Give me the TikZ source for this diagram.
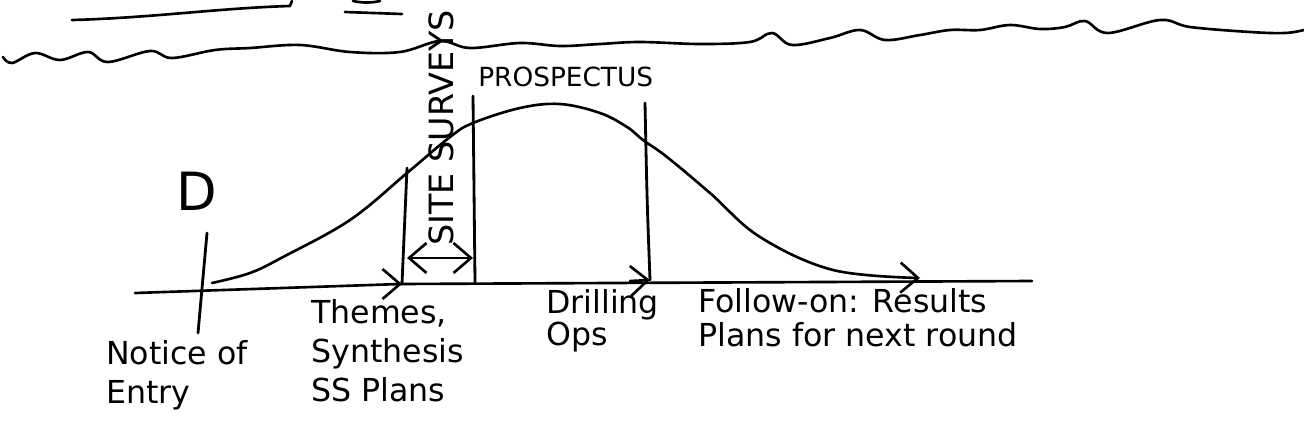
\documentclass[tikz,border=0pt]{standalone}
\usepackage{fontspec}
\setmainfont{DejaVu Sans}
\usetikzlibrary{arrows.meta}

\begin{document}
\begin{tikzpicture}[
  x=0.02cm, y=-0.02cm, >={Straight Barb[length=3.5mm,width=6mm]},
  line width=1.5pt, line cap=round, line join=round,
  hand/.style={font=\fontsize{18}{22}\selectfont, align=left, inner sep=0pt, anchor=base west},
  divider/.style={line width=1.6pt},
  pen/.style={line width=1.5pt}]
  \useasboundingbox (0,0) rectangle (1304,440);
  % cut-off strokes and the tear line at the top
  \draw[pen] (72,20) .. controls (150,18) and (220,8) .. (290,6) -- (292,1);
  \draw[pen] (345,12) -- (402,14);
  \draw[pen] (353,1) .. controls (362,3) and (372,3) .. (380,1);
  \draw[pen] plot[smooth, tension=0.6] coordinates {(3,57) (12,63) (35,53) (60,60) (88,52) (108,62) (150,51) (172,58) (215,50) (250,48) (300,45) (350,52) (400,52) (440,41) (470,48) (520,43) (560,46) (600,44) (640,42) (700,44) (750,42) (772,33) (792,45) (830,38) (860,30) (885,40) (920,35) (950,30) (980,30) (1010,25) (1040,29) (1065,27) (1085,21) (1108,33) (1160,20) (1190,27) (1250,32) (1285,33) (1304,30)};
  % labels (base = last line)
  \node[hand, font=\fontsize{30}{30}\selectfont] (dmark) at (175,210) {D};
  \node[hand, font=\fontsize{19}{19}\selectfont, rotate=90] (site) at (453,247) {SITE SURVEYS};
  \node[hand, font=\fontsize{15}{15}\selectfont] (prosp) at (477,86) {PROSPECTUS};
  \node[hand] (entry) at (105,403) {Notice of\\Entry};
  \node[hand] (themes) at (310,401) {Themes,\\Synthesis\\SS Plans};
  \node[hand, font=\fontsize{18}{16.5}\selectfont] (drill) at (545,345) {Drilling\\Ops};
  \node[hand, font=\fontsize{18}{19}\selectfont] (follow) at (697,346) {Follow-on: Results\\Plans for next round};
  % axis and phase lines
  \coordinate (axisL) at (135,293);
  \coordinate (axisM) at (400,284);
  \coordinate (axisR) at (1032,281);
  \coordinate (entryT) at (207,233);
  \coordinate (entryB) at (198,333);
  \coordinate (themesT) at (407,168);
  \coordinate (themesB) at (402,284);
  \coordinate (themesA) at (388,284);
  \coordinate (prospT) at (473,96);
  \coordinate (prospB) at (475,282);
  \coordinate (drillT) at (645,103);
  \coordinate (drillB) at (650,280);
  \coordinate (drillA) at (630,281);
  \draw[pen] (axisL) -- (axisM) -- (axisR);
  \draw[divider] (entryT) -- (entryB);
  \draw[divider] (themesT) -- (themesB);
  \draw[divider] (prospT) -- (prospB);
  \draw[divider] (drillT) .. controls (647,200) .. (drillB);
  \draw[pen, <->] (themesT |- 0,258) -- (prospT |- 0,258);
  \draw[pen, ->] (themesA) -- (themesB);
  \draw[pen, ->] (drillA) -- (drillB);
  % effort curve
  \draw[pen, ->] plot[smooth, tension=0.6] coordinates {(212,283) (250,273) (283,257) (350,220) (407,173) (450,137) (473,123) (520,108) (560,104) (600,113) (627,127) (643,140) (667,157) (710,193) (760,237) (833,270) (920,278)};
\end{tikzpicture}
\end{document}
